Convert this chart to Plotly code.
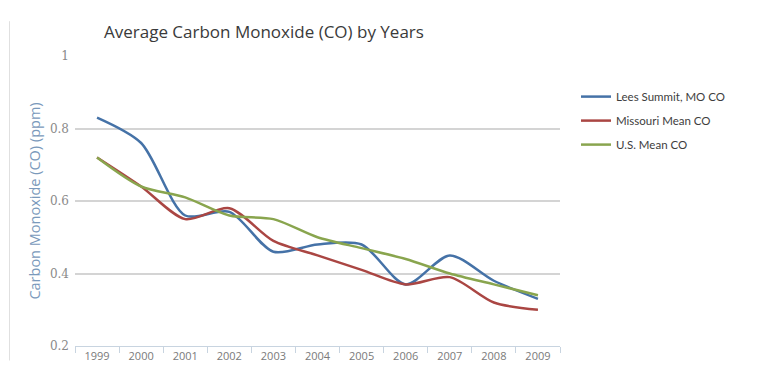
import plotly.graph_objects as go

years = ["1999", "2000", "2001", "2002", "2003", "2004", "2005", "2006", "2007", "2008", "2009"]
lees_summit = [0.83, 0.76, 0.56, 0.57, 0.46, 0.48, 0.48, 0.37, 0.45, 0.38, 0.33]
missouri = [0.72, 0.64, 0.55, 0.58, 0.49, 0.45, 0.41, 0.37, 0.39, 0.32, 0.30]
us_mean = [0.72, 0.64, 0.61, 0.56, 0.55, 0.50, 0.47, 0.44, 0.40, 0.37, 0.34]

series = [
    ("Lees Summit, MO CO", lees_summit, "#4572A7"),
    ("Missouri Mean CO", missouri, "#AA4643"),
    ("U.S. Mean CO", us_mean, "#89A54E"),
]

fig = go.Figure()
for name, vals, color in series:
    fig.add_trace(go.Scatter(
        x=years, y=vals, name=name, mode="lines", legendgroup=name,
        line=dict(color=color, width=2.5, shape="spline", smoothing=0.8),
    ))

fig.update_layout(
    width=759, height=376,
    margin=dict(l=75, r=199, t=56, b=30),
    paper_bgcolor="white", plot_bgcolor="white",
    font=dict(family="Open Sans, DejaVu Sans, sans-serif", color="#555555", size=11),
    title=dict(text="Average Carbon Monoxide (CO) by Years", x=0.137, xanchor="left",
               y=0.915, yanchor="middle",
               font=dict(size=17, color="#3a3a3a", family="Open Sans, sans-serif")),
    legend=dict(x=1.033, xanchor="left", y=0.91, yanchor="top", xref="paper",
                font=dict(size=11.5, color="#3d3d3d", family="Lato, Open Sans, sans-serif"),
                bgcolor="rgba(0,0,0,0)", itemwidth=30, tracegroupgap=5),
    showlegend=True,
)
fig.update_xaxes(
    type="category", range=[-0.5, 10.5], tickson="boundaries",
    ticks="outside", ticklen=6, tickcolor="#C8D4E0",
    showline=True, linecolor="#C8D4E0", linewidth=1,
    showgrid=False, tickfont=dict(size=11, color="#7a7a7a"),
)
fig.update_yaxes(
    range=[0.2, 1.0], tickvals=[0.2, 0.4, 0.6, 0.8, 1.0],
    ticktext=["0.2", "0.4", "0.6", "0.8", "1"],
    showgrid=True, gridcolor="#D4D4D4", gridwidth=1.5, zeroline=False,
    ticks="", ticklabelstandoff=5,
    tickfont=dict(size=12, color="#8a8a8a", family="DejaVu Serif, Liberation Serif, serif"),
    title=dict(text="Carbon Monoxide (CO) (ppm)", standoff=5,
               font=dict(size=14.5, color="#7A99BB", family="Open Sans, sans-serif")),
)
fig.add_shape(type="line", xref="paper", yref="paper", x0=-0.135, x1=-0.135,
              y0=-0.05, y1=1.12, line=dict(color="#E0E0E0", width=1))

fig.write_html("out.html")
